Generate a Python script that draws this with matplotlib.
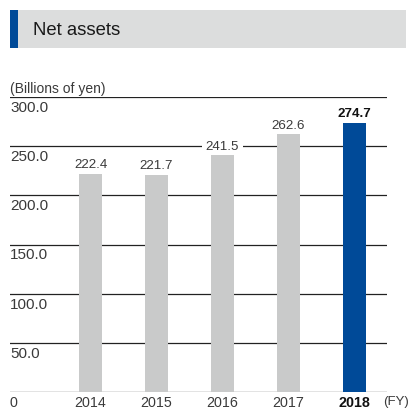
import matplotlib
matplotlib.use("Agg")
import matplotlib.pyplot as plt
from matplotlib.patches import Rectangle
from matplotlib.transforms import blended_transform_factory, offset_copy

years = ["2014", "2015", "2016", "2017", "2018"]
net_assets = [222.4, 221.7, 241.5, 262.6, 274.7]
y_ticks = [0, 50, 100, 150, 200, 250, 300]
y_tick_labels = ["0", "50.0", "100.0", "150.0", "200.0", "250.0", "300.0"]

W, H = 408, 410
GRAY_BAR = "#c9caca"
BLUE = "#004a98"
TEXT = "#3a3a3a"
FONT = "Liberation Sans"

plt.rcParams["font.family"] = [FONT, "DejaVu Sans"]

fig = plt.figure(figsize=(W / 100, H / 100), dpi=100)


def fx(px):
    return px / W


def fy(py):
    return 1 - py / H


# Header band
fig.patches.append(Rectangle((fx(10), fy(49)), fx(396), 38 / H, transform=fig.transFigure,
                             facecolor="#dcdddd", edgecolor="none"))
fig.patches.append(Rectangle((fx(10), fy(49)), fx(8), 38 / H, transform=fig.transFigure,
                             facecolor=BLUE, edgecolor="none"))
fig.text(fx(33), fy(30.5), "Net assets", fontsize=13.3, color="#1a1a1a", va="center", ha="left")

fig.text(fx(10), fy(93), "(Billions of yen)", fontsize=10, color=TEXT, va="baseline", ha="left")

# Plot area
ax_left, ax_right = 10, 387
ax_bottom, ax_top = 392.7, 98.3
ax = fig.add_axes([fx(ax_left), fy(ax_bottom), fx(ax_right - ax_left), (ax_bottom - ax_top) / H])
ax.set_ylim(0, 300)
x = list(range(len(years)))
spacing = 66.0
ax.set_xlim(-(90.5 - ax_left) / spacing, (ax_right - 90.5) / spacing)
ax.axis("off")

for t in y_ticks:
    ax.axhline(t, color="#222222", lw=0.9, zorder=1)

colors = [GRAY_BAR] * (len(years) - 1) + [BLUE]
ax.bar(x, net_assets, width=23 / spacing, color=colors, zorder=2)

for i, v in enumerate(net_assets):
    last = i == len(years) - 1
    tr = offset_copy(ax.transData, fig=fig, x=0, y=3, units="dots")
    ax.text(i, v, f"{v:.1f}", transform=tr, ha="center", va="bottom",
            fontsize=9.6, color="#111111" if last else TEXT,
            fontweight="bold" if last else "normal", zorder=3,
            bbox=dict(facecolor="white", edgecolor="none", pad=2.5))

# Y tick labels sit just below their gridlines
ytr = offset_copy(blended_transform_factory(ax.transAxes, ax.transData), fig=fig, x=0, y=-3, units="dots")
for t, lab in zip(y_ticks[1:], y_tick_labels[1:]):
    ax.text(0, t, lab, transform=ytr, ha="left", va="top", fontsize=11, color=TEXT, zorder=3)

# X axis labels
xtr = offset_copy(blended_transform_factory(ax.transData, ax.transAxes), fig=fig, x=0, y=-3, units="dots")
for i, yr in enumerate(years):
    last = i == len(years) - 1
    ax.text(i, 0, yr, transform=xtr, ha="center", va="top", fontsize=10.3,
            color="#111111" if last else TEXT, fontweight="bold" if last else "normal")
ztr = offset_copy(ax.transAxes, fig=fig, x=0, y=-3, units="dots")
ax.text(0, 0, y_tick_labels[0], transform=ztr, ha="left", va="top", fontsize=10.3, color=TEXT)
fig.text(fx(383), fy(ax_bottom + 3), "(FY)", fontsize=9.5, color=TEXT, ha="left", va="top")

fig.savefig("out.png", dpi=100)
